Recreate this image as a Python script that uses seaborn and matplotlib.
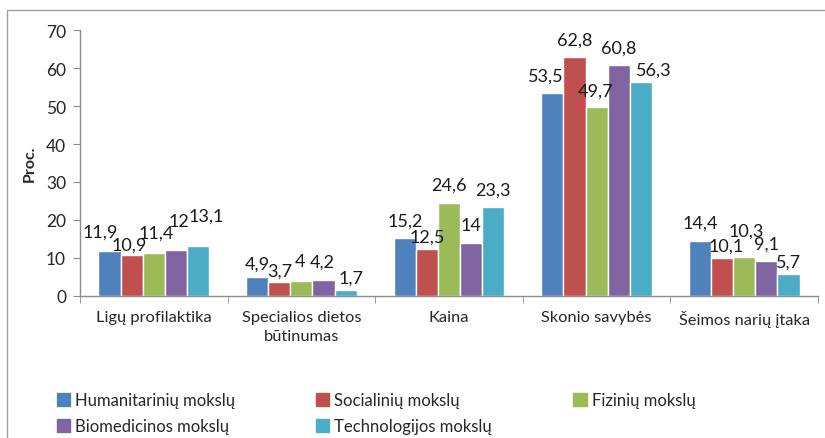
import numpy as np
import pandas as pd
import matplotlib
matplotlib.use("Agg")
import matplotlib.pyplot as plt
import matplotlib.patches as mpatches
import seaborn as sns

categories = ["Ligų profilaktika", "Specialios dietos\nbūtinumas", "Kaina",
              "Skonio savybės", "Šeimos narių įtaka"]
series = ["Humanitarinių mokslų", "Socialinių mokslų", "Fizinių mokslų",
          "Biomedicinos mokslų", "Technologijos mokslų"]
humanitariniu = [11.9, 4.9, 15.2, 53.5, 14.4]
socialiniu = [10.9, 3.7, 12.5, 62.8, 10.1]
fiziniu = [11.4, 4.0, 24.6, 49.7, 10.3]
biomedicinos = [12.0, 4.2, 14.0, 60.8, 9.1]
technologijos = [13.1, 1.7, 23.3, 56.3, 5.7]
colors = ["#4F81BD", "#C0504D", "#9BBB59", "#8064A2", "#4BACC6"]

# manual nudges of data labels as in the original (pixels: dx right, dy up)
# keyed by (series index, category index)
label_nudge = {
    (0, 0): (-9, 1), (1, 0): (-2, -8), (2, 0): (2, 2), (3, 0): (3, 12), (4, 0): (8, 13),
    (0, 1): (0, -4), (1, 1): (0, -6), (2, 1): (-1, 2), (3, 1): (-1, 1), (4, 1): (5, -6),
    (1, 2): (0, -6),
    (0, 3): (-7, -1), (2, 3): (-1, -1), (4, 3): (13, -5),
    (0, 4): (0, 1), (1, 4): (4, -6), (2, 4): (2, 9), (4, 4): (0, -5),
}

values = [humanitariniu, socialiniu, fiziniu, biomedicinos, technologijos]
df = pd.DataFrame([(c, s, v) for s, vals in zip(series, values)
                   for c, v in zip(categories, vals)],
                  columns=["Kategorija", "Grupė", "Proc."])

sns.set_style("white")
plt.rcParams["font.family"] = ["Lato", "DejaVu Sans"]

fig = plt.figure(figsize=(8.25, 4.39), dpi=100)
ax = fig.add_axes([80 / 825, 1 - 297 / 439, (818 - 80) / 825, (297 - 31) / 439])

sns.barplot(data=df, x="Kategorija", y="Proc.", hue="Grupė", palette=colors,
            width=0.75, ax=ax, legend=False, saturation=1, errorbar=None)

pad = 7
for si, cont in enumerate(ax.containers):
    labels = [f"{v:g}".replace(".", ",") for v in cont.datavalues]
    anns = ax.bar_label(cont, labels=labels, padding=pad, fontsize=13, color="#1a1a1a")
    for ci, ann in enumerate(anns):
        dx, dy = label_nudge.get((si, ci), (0, 0))
        ann.xyann = (dx * 0.72, pad + dy * 0.72)

ax.set_ylim(0, 70)
ax.set_xlim(-0.5, 4.5)
ax.set_yticks(range(0, 71, 10))
ax.set_xlabel("")
ax.set_ylabel("Proc.", fontsize=11.5, fontweight="bold", labelpad=7)

sns.despine(ax=ax)
for sp in ["left", "bottom"]:
    ax.spines[sp].set_color("#8c8c8c")
    ax.spines[sp].set_linewidth(1)
ax.tick_params(axis="y", length=5, color="#8c8c8c", labelsize=12.5, pad=5, left=True)
ax.set_xticks(np.arange(-0.5, 4.6, 1), minor=True)
ax.tick_params(axis="x", which="minor", length=5, color="#8c8c8c", bottom=True)
ax.tick_params(axis="x", which="major", length=0, labelsize=11.8, pad=10)
for t in ax.get_xticklabels():
    t.set_linespacing(1.45)

# chart border
fig.patches.append(mpatches.Rectangle((7 / 825, -0.1), 1.0, 1 - 11 / 439 + 0.1,
                                      transform=fig.transFigure, fill=False,
                                      edgecolor="#a0a0a0", linewidth=1))

handles = [mpatches.Patch(color=c, label=s) for c, s in zip(colors, series)]
order = [0, 3, 1, 4, 2]
fig.legend([handles[i] for i in order], [series[i] for i in order],
           ncol=3, loc="upper left", frameon=False,
           bbox_to_anchor=(50 / 825, 1 - 413 / 439, (702 - 50) / 825, 0.06),
           mode="expand", fontsize=12, handlelength=0.8, handleheight=0.8,
           handletextpad=0.3, labelspacing=0.6, borderaxespad=0)

fig.savefig("out.png", dpi=100)
